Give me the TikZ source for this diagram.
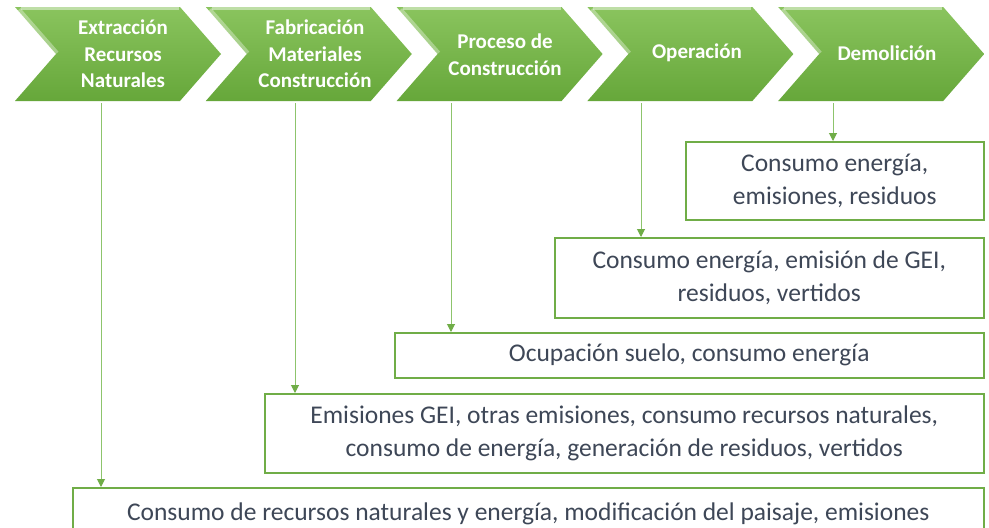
\documentclass[tikz,border=0pt]{standalone}
\usepackage{fontspec}
\setmainfont{Carlito}
\usetikzlibrary{arrows.meta}
\definecolor{gmain}{HTML}{70AD47}
\definecolor{gtop}{HTML}{8AC45E}
\definecolor{gbot}{HTML}{66A73A}
\definecolor{connc}{HTML}{8DC46C}
\definecolor{txtc}{HTML}{3E4757}
\tikzset{
  ctext/.style={text=white, align=center, inner sep=0pt, font=\fontsize{21}{26.5}\selectfont\bfseries},
  ebox/.style={draw=gmain, line width=1.5pt, fill=white, text=txtc, align=center, inner sep=0pt,
    anchor=north west, font=\fontsize{25.5}{33}\selectfont},
  conn/.style={draw=connc, line width=1pt, -{Triangle[width=8pt,length=8pt,fill=gmain,color=gmain]}}
}
\begin{document}
\begin{tikzpicture}[x=1pt,y=-1pt]
\clip (0,0) rectangle (989,528);
\fill[white] (0,0) rectangle (989,528);
% chevrons
\foreach \x in {15,205.8,396.6,587.4,778.2} {
  \begin{scope}[shift={(\x,7)}]
    \shade[top color=gtop, bottom color=gbot] (0,0) -- (165,0) -- (206,47) -- (165,94) -- (0,94) -- (41,47) -- cycle;
    \draw[white, opacity=.45, line width=3pt] (6,1.8) -- (164,1.8);
    \draw[white, opacity=.35, line width=4pt] (4,2.5) -- (42,46);
  \end{scope}
}
\node[ctext] (c1) at (123,54) {Extracción\\Recursos\\Naturales};
\node[ctext] (c2) at (315,54) {Fabricación\\Materiales\\Construcción};
\node[ctext] (c3) at (505,54.5) {Proceso de\\Construcción};
\node[ctext] (c4) at (697,53) {Operación};
\node[ctext] (c5) at (887,53) {Demolición};
% boxes
\node[ebox, minimum width=298pt, minimum height=78pt] (bA) at (685,141) {Consumo energía,\\emisiones, residuos};
\node[ebox, minimum width=429pt, minimum height=80pt] (bB) at (554,237) {Consumo energía, emisión de GEI,\\residuos, vertidos};
\node[ebox, minimum width=589pt, minimum height=45pt] (bC) at (394,332) {Ocupación suelo, consumo energía};
\node[ebox, minimum width=719pt, minimum height=79pt] (bD) at (264,393) {Emisiones GEI, otras emisiones, consumo recursos naturales,\\consumo de energía, generación de residuos, vertidos};
\node[ebox, minimum width=911pt, minimum height=90pt] (bE) at (72,487) {Consumo de recursos naturales y energía, modificación del paisaje, emisiones\\\strut};
% connectors
\coordinate (s1) at (101,103);
\coordinate (s2) at (295,103);
\coordinate (s3) at (451,103);
\coordinate (s4) at (641,103);
\coordinate (s5) at (833,103);
\draw[conn] (s1) -- (s1 |- bE.north);
\draw[conn] (s2) -- (s2 |- bD.north);
\draw[conn] (s3) -- (s3 |- bC.north);
\draw[conn] (s4) -- (s4 |- bB.north);
\draw[conn] (s5) -- (s5 |- bA.north);
\end{tikzpicture}
\end{document}
